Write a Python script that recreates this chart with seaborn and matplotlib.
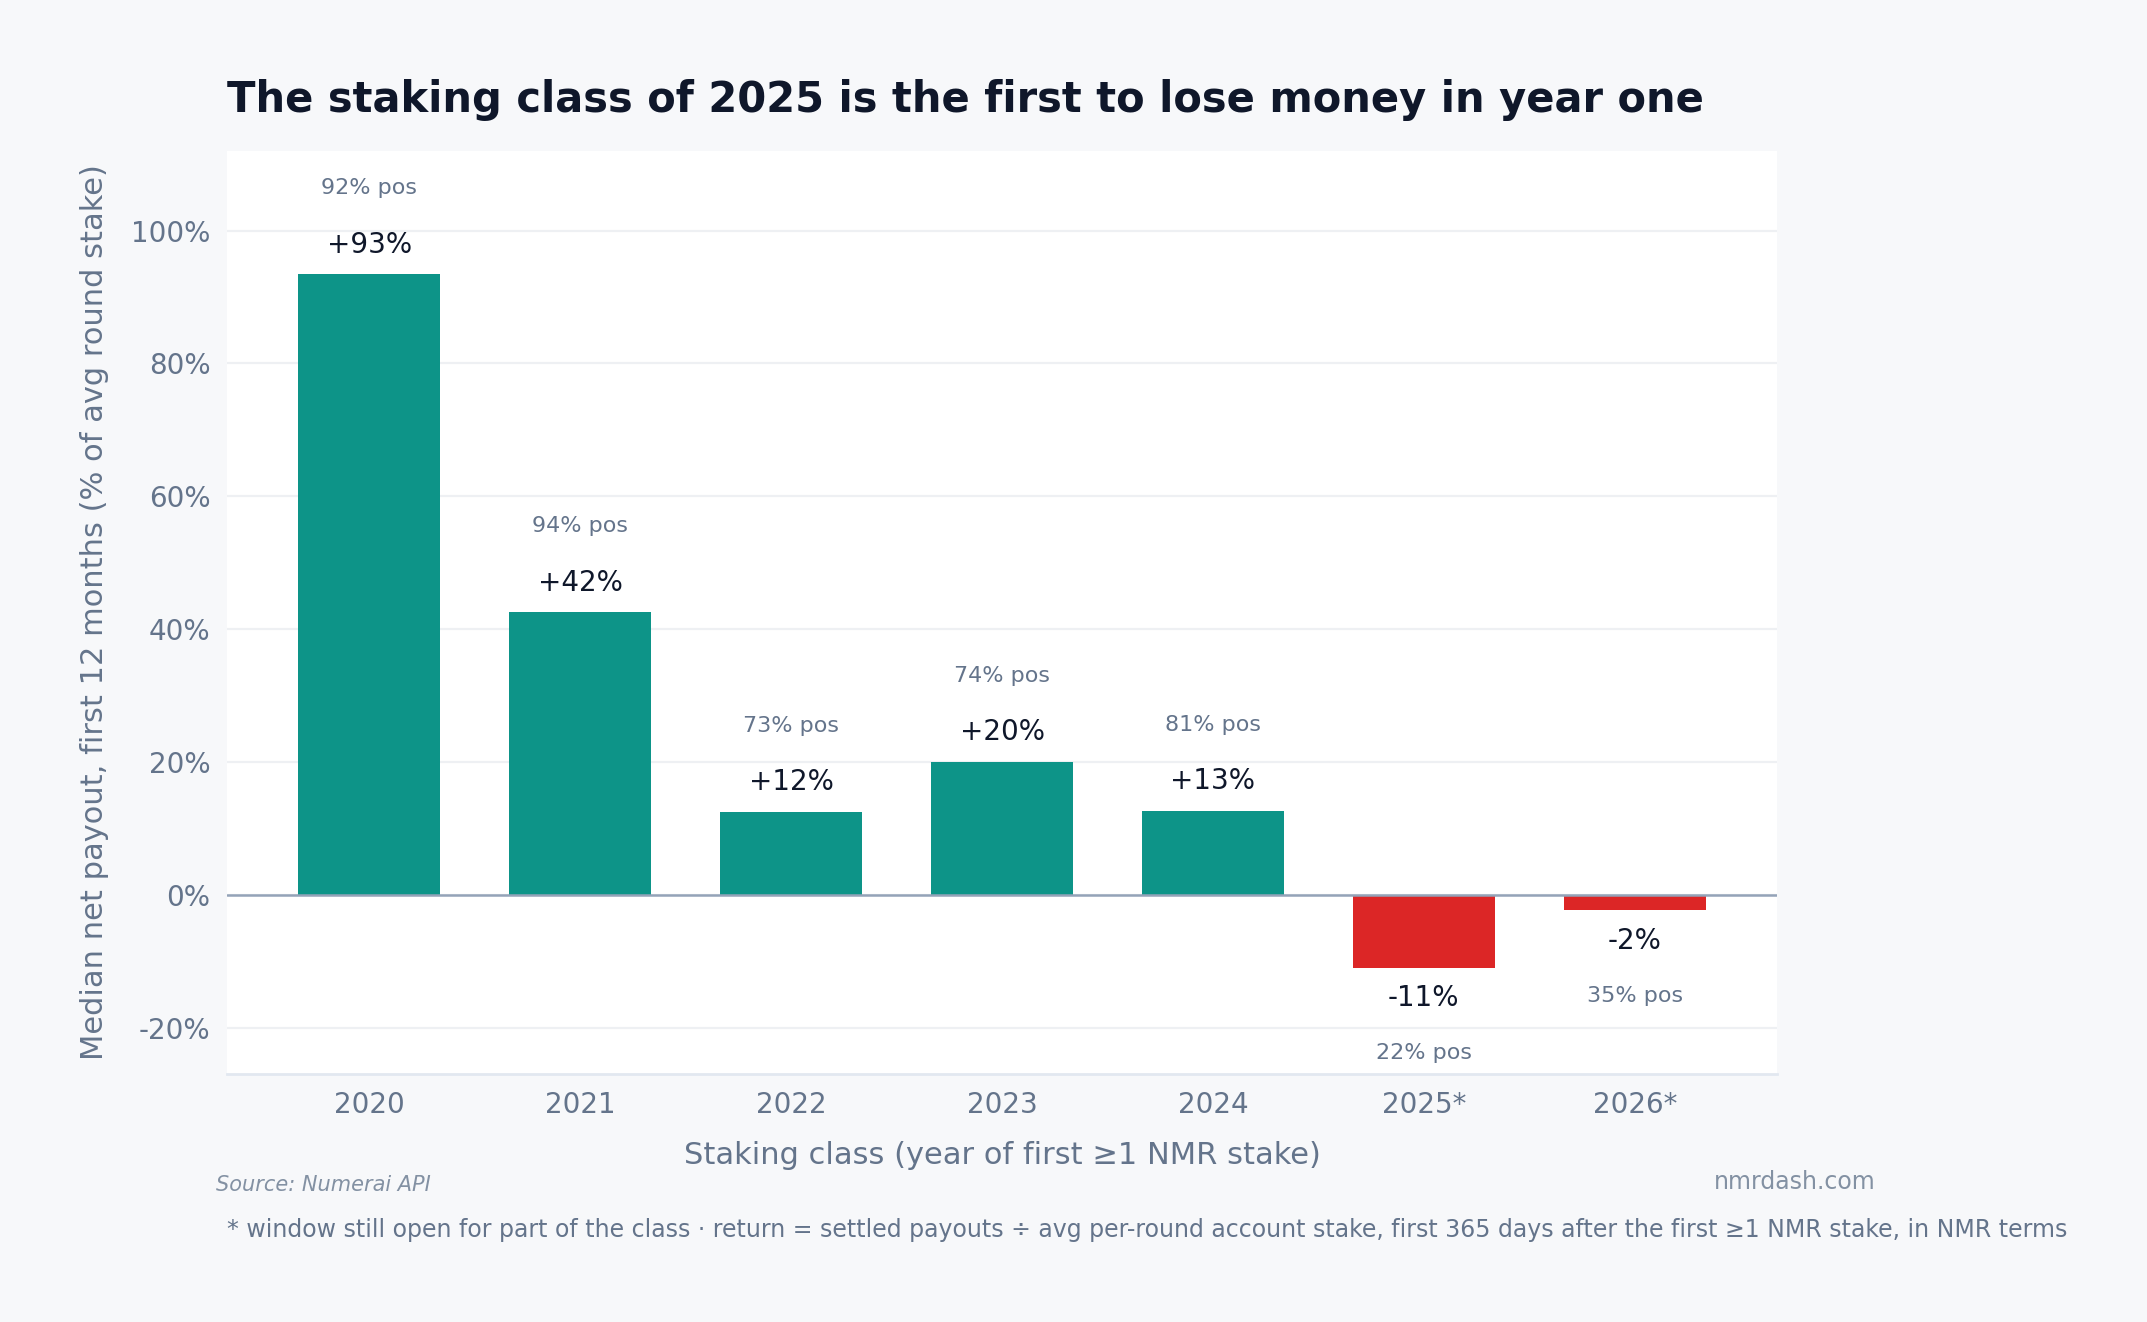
import matplotlib
matplotlib.use("Agg")
import matplotlib.pyplot as plt
import seaborn as sns
import pandas as pd
from matplotlib.ticker import FuncFormatter

classes = ["2020", "2021", "2022", "2023", "2024", "2025*", "2026*"]
median_return = [93.4, 42.5, 12.4, 20.0, 12.6, -11.0, -2.3]
value_labels = ["+93%", "+42%", "+12%", "+20%", "+13%", "-11%", "-2%"]
pos_labels = ["92% pos", "94% pos", "73% pos", "74% pos", "81% pos", "22% pos", "35% pos"]
yticks = [-20, 0, 20, 40, 60, 80, 100]

TEAL = "#0d9488"
RED = "#dc2626"
BG = "#f7f8fa"
DARK = "#0f172a"
MUTED = "#64748b"

sns.set_theme(style="white")
plt.rcParams["font.family"] = ["DejaVu Sans"]

df = pd.DataFrame({"cls": classes, "ret": median_return})
colors = [TEAL if v >= 0 else RED for v in median_return]

fig = plt.figure(figsize=(10.735, 6.61), dpi=200, facecolor=BG)
ax = fig.add_axes([0.1057, 0.1876, 0.7220, 0.6982])
ax.set_facecolor("white")

sns.barplot(data=df, x="cls", y="ret", hue="cls", palette=colors, legend=False,
            width=0.675, saturation=1, linewidth=0, ax=ax, zorder=3)

ax.set_ylim(-27, 112)
ax.set_xlim(-0.675, 6.675)
ax.set_yticks(yticks)
ax.yaxis.set_major_formatter(FuncFormatter(lambda v, p: f"{v:.0f}%"))
ax.grid(axis="y", color="#eef0f3", linewidth=0.8, zorder=0)
ax.axhline(0, color="#94a3b8", linewidth=0.9, zorder=4)

for s in ["top", "right", "left"]:
    ax.spines[s].set_visible(False)
ax.spines["bottom"].set_color("#e2e8f0")
ax.spines["bottom"].set_linewidth(1.0)

ax.tick_params(axis="both", length=0, labelsize=10, labelcolor=MUTED, pad=6)

for i, v in enumerate(median_return):
    if v >= 0:
        ax.text(i, v + 4.5, value_labels[i], ha="center", va="center", fontsize=10, color=DARK, zorder=5)
        ax.text(i, v + 13.0, pos_labels[i], ha="center", va="center", fontsize=8, color=MUTED, zorder=5)
    else:
        ax.text(i, v - 4.6, value_labels[i], ha="center", va="center", fontsize=10, color=DARK, zorder=5)
        ax.text(i, v - 12.9, pos_labels[i], ha="center", va="center", fontsize=8, color=MUTED, zorder=5)

ax.set_xlabel("Staking class (year of first \u22651 NMR stake)", fontsize=11, color=MUTED, labelpad=8)
ax.set_ylabel("Median net payout, first 12 months (% of avg round stake)", fontsize=11, color=MUTED, labelpad=8)

fig.text(227 / 2147, 1 - 100 / 1322, "The staking class of 2025 is the first to lose money in year one",
         ha="left", va="center", fontsize=15, fontweight="bold", color=DARK)
fig.text(216 / 2147, 1 - 1185 / 1322, "Source: Numerai API", ha="left", va="center",
         fontsize=7.5, style="italic", color="#8391a3")
fig.text(1876 / 2147, 1 - 1182 / 1322, "nmrdash.com", ha="right", va="center",
         fontsize=8.5, color="#8391a3")
fig.text(227 / 2147, 1 - 1230 / 1322,
         "* window still open for part of the class \u00b7 return = settled payouts \u00f7 avg per-round account stake, first 365 days after the first \u22651 NMR stake, in NMR terms",
         ha="left", va="center", fontsize=8.5, color=MUTED)

fig.savefig("out.png", dpi=200, facecolor=BG)
